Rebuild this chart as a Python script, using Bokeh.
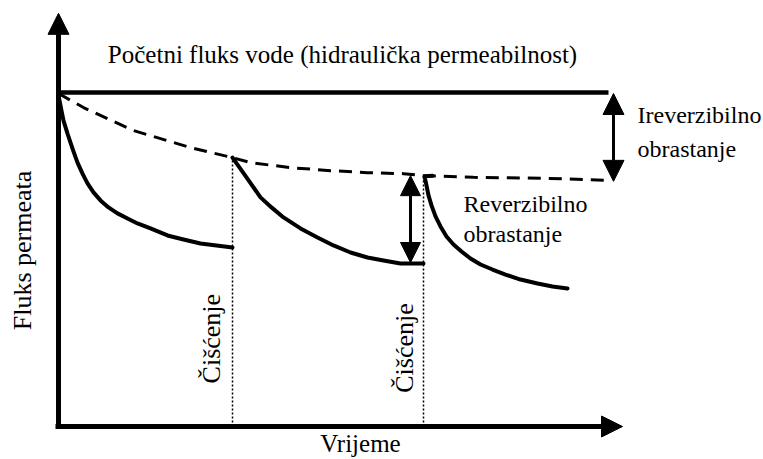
from bokeh.plotting import figure
from bokeh.models import Range1d, Arrow, NormalHead, ColumnDataSource
from bokeh.core.properties import value
from bokeh.embed import file_html
from bokeh.resources import INLINE
import math

# ---- data (time in arbitrary units, flux in % of initial water flux) ----
initial_flux = 100.0
initial_time = [0, 550]

dash_time = [0, 25, 75, 132, 174, 192, 232, 272, 309, 345, 365, 415, 489, 552]
dash_flux = [99.7, 95.5, 88.6, 83.5, 80.5, 79.0, 77.5, 76.6, 76.0, 75.7, 75.1, 74.6, 74.3, 73.7]

c1_time = [0, 2, 5, 9, 14, 19, 24, 29, 35, 42, 50, 59, 69, 79, 92, 109, 125, 142, 158, 174]
c1_flux = [99.1, 96.1, 91.6, 87.7, 83.2, 79.0, 75.7, 72.8, 70.1, 67.7, 65.6, 63.8, 62.3,
           60.8, 59.3, 57.2, 56.0, 54.8, 54.2, 53.6]

c2_time = [174, 188, 202, 213, 225, 242, 259, 275, 292, 309, 325, 342, 365]
c2_flux = [80.5, 74.6, 68.6, 65.6, 62.6, 59.3, 56.6, 54.2, 52.1, 50.6, 49.7, 48.8, 48.8]

c3_time = [374, 366, 368, 370, 373, 377, 382, 388, 395, 403, 412, 422, 434, 447, 462, 479, 494, 509]
c3_flux = [75.1, 74.9, 72.2, 69.2, 66.2, 62.9, 59.9, 56.9, 54.5, 52.4, 50.3, 48.5, 47.0,
           45.5, 44.0, 42.8, 41.9, 41.3]

clean_time = [174, 365]
clean_flux = [80.5, 75.1]
clean_label = ["Čišćenje", "Čišćenje"]

rev_time = 352
rev_top, rev_bottom = 75.1, 49.1
irr_time = 555
irr_top, irr_bottom = 99.7, 73.4

# axes extents
x_axis_end = 564
y_axis_end = 123.7

SERIF = value("Liberation Serif")

p = figure(width=763, height=459, x_range=Range1d(-58, 705), y_range=Range1d(-9.880, 127.545),
           output_backend="svg", toolbar_location=None, min_border=0,
           x_axis_location=None, y_axis_location=None)
p.grid.visible = False
p.outline_line_color = None
p.background_fill_color = "white"

# axes with arrowheads
p.add_layout(Arrow(x_start=0, y_start=-0.3, x_end=0, y_end=y_axis_end, line_width=5,
                   line_color="black",
                   end=NormalHead(size=21, fill_color="black", line_color="black", line_width=1)))
p.add_layout(Arrow(x_start=-3, y_start=0, x_end=x_axis_end, y_end=0, line_width=5,
                   line_color="black",
                   end=NormalHead(size=21, fill_color="black", line_color="black", line_width=1)))

# initial flux line
p.line(initial_time, [initial_flux, initial_flux], line_width=4.5, line_color="black")

# dashed envelope
p.line(dash_time, dash_flux, line_width=3, line_color="black", line_dash="13 8")

# cleaning dotted verticals
src_clean = ColumnDataSource(dict(x0=clean_time, y0=[0, 0], x1=clean_time, y1=clean_flux))
p.segment("x0", "y0", "x1", "y1", source=src_clean, line_width=1.5, line_color="black",
          line_dash="2 2")

# flux curves
for tx, fy in [(c1_time, c1_flux), (c2_time, c2_flux), (c3_time, c3_flux)]:
    p.line(tx, fy, line_width=4, line_color="black", line_join="round", line_cap="round")

# double arrows
for t, top, bot, sz in [(rev_time, rev_top, rev_bottom, 20), (irr_time, irr_top, irr_bottom, 21)]:
    p.add_layout(Arrow(x_start=t, y_start=bot, x_end=t, y_end=top, line_width=3,
                       line_color="black",
                       start=NormalHead(size=sz, fill_color="black", line_color="black", line_width=1),
                       end=NormalHead(size=sz, fill_color="black", line_color="black", line_width=1)))

# texts
p.text(x=[284], y=[111.4], text=["Početni fluks vode (hidraulička permeabilnost)"],
       text_font=SERIF, text_font_size="25px", text_align="center", text_baseline="alphabetic",
       text_color="black")
p.text(x=[579, 579], y=[93.4, 83.2], text=["Ireverzibilno", "obrastanje"],
       text_font=SERIF, text_font_size="24px", text_align="left", text_baseline="alphabetic",
       text_color="black")
p.text(x=[405, 405], y=[66.5, 57.5], text=["Reverzibilno", "obrastanje"],
       text_font=SERIF, text_font_size="24px", text_align="left", text_baseline="alphabetic",
       text_color="black")
p.text(x=[302], y=[-5.0], text=["Vrijeme"],
       text_font=SERIF, text_font_size="25px", text_align="center", text_baseline="alphabetic",
       text_color="black")
p.text(x=[-36], y=[52.7], text=["Fluks permeata"], angle=math.pi / 2,
       text_font=SERIF, text_font_size="26px", text_align="center", text_baseline="alphabetic",
       text_color="black")
p.text(x=[153, 346], y=[26.3, 23.5], text=clean_label, angle=math.pi / 2,
       text_font=SERIF, text_font_size="26px", text_align="center", text_baseline="alphabetic",
       text_color="black")

open("out.html", "w").write(file_html(p, INLINE))
